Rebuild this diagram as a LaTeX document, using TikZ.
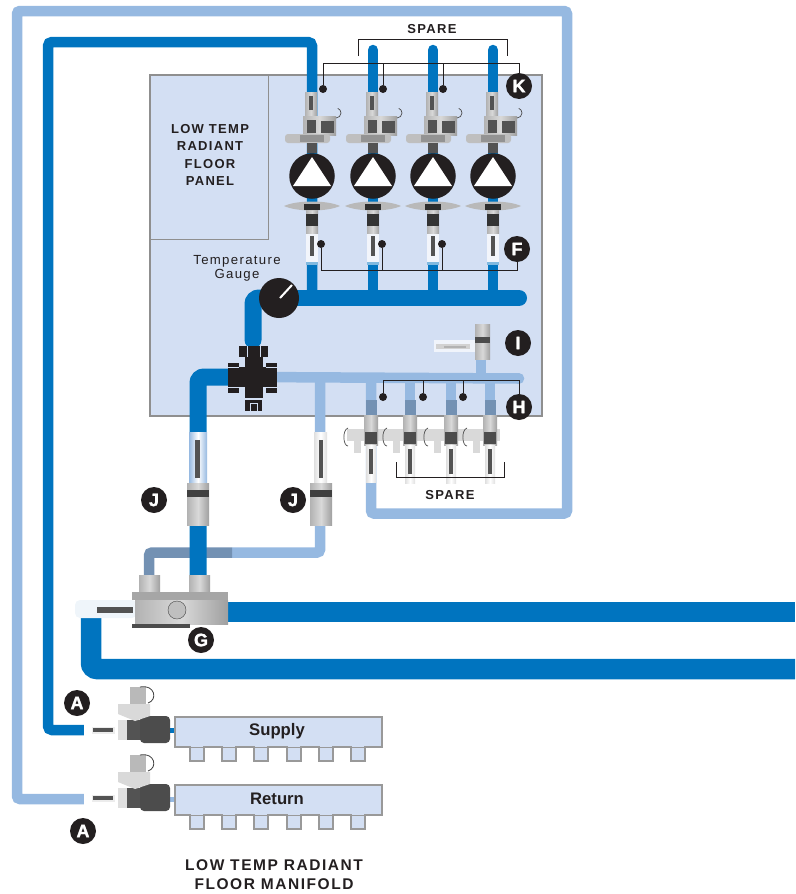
\documentclass[tikz,border=0pt]{standalone}
\usepackage{fontspec}
\setmainfont{Liberation Sans}
\newfontfamily\spacedfont[LetterSpace=10]{Liberation Sans}
\newfontfamily\heavyfont[FakeBold=1.6]{Liberation Sans}
\usetikzlibrary{calc,positioning}
\definecolor{pipedark}{HTML}{0074BF}
\definecolor{pipelight}{HTML}{96B9E1}
\definecolor{pipemute}{HTML}{7391B3}
\definecolor{panelfill}{HTML}{D3DFF3}
\definecolor{framegray}{HTML}{8F8F8F}
\definecolor{inkblack}{HTML}{231F20}
\tikzset{
  darkpipe/.style={draw=pipedark, line width=10.5pt, rounded corners=4pt},
  lightpipe/.style={draw=pipelight, line width=10.5pt, rounded corners=3pt},
  leader/.style={draw=inkblack, line width=1pt},
  leaderdot/.style={circle, fill=inkblack, inner sep=0pt, minimum size=8pt},
  callout/.style={circle, fill=inkblack, text=white, inner sep=0pt, minimum size=26pt, font=\heavyfont\bfseries\fontsize{18}{18}\selectfont},
  caption/.style={align=center, text=inkblack, font=\spacedfont\bfseries\fontsize{13}{17.6}\selectfont},
  metal/.style={draw=none, left color=gray!60, right color=gray!75, middle color=gray!30},
  metaldark/.style={draw=none, fill=gray!65!black},
  meter/.style={draw=none, left color=gray!25, right color=gray!25, middle color=white},
  tooth/.style={fill=panelfill, draw=gray!80, line width=1.6pt, line join=miter},
}
% Ball valve above a pump
\newcommand{\pumpvalve}[1]{
  \begin{scope}[shift={(#1,0)}]
    \fill[metal] (-7,92) rectangle (5,118);
    \fill[metaldark] (-3,96) rectangle (1,110);
    \fill[metal] (-9,116) rectangle (24,135);
    \fill[metaldark] (-5,120) rectangle (4,133);
    \fill[metaldark] (9,121) rectangle (22,133);
    \draw[gray!60!black, line width=0.7pt] (24,118) arc (90:-70:5);
    \fill[gray!50, rounded corners=3pt] (-27,134) rectangle (18,143);
    \fill[gray!85] (-12,135) rectangle (12,142);
    \fill[metaldark] (-5,143) rectangle (5,153);
  \end{scope}
}
% Flange and flow meter below a pump
\newcommand{\pumpmeter}[1]{
  \begin{scope}[shift={(#1,0)}]
    \fill[white!50!pipedark] (-6,261) rectangle (6,265);
    \fill[white!70!panelfill] (-6,232) rectangle (6,262);
    \fill[metaldark] (-2,236) rectangle (2,256);
    \fill[metal] (-6,208) rectangle (6,233);
    \fill[gray!40!black] (-6,214) rectangle (6,226);
    \fill[gray!55] (-28,206) .. controls (-15,200) and (15,200) .. (28,206) .. controls (15,212) and (-15,212) .. (-28,206) -- cycle;
    \fill[gray!35!black] (-8,204) rectangle (8,210);
  \end{scope}
}
% Valve under the return header
\newcommand{\returnvalve}[1]{
  \begin{scope}[shift={(#1,0)}]
    \fill[pipemute] (-5.5,400) rectangle (5.5,416);
    \fill[metal] (-7,415) rectangle (7,445);
    \fill[meter] (-5,445) rectangle (5,483);
    \fill[metaldark] (-2,449) rectangle (2,474);
    \fill[gray!60!black] (-6,432) rectangle (6,444);
    \draw[gray!60!black, line width=0.7pt] (-23,428) .. controls (-29,430) and (-28,446) .. (-23,446);
    \fill[gray!30] (-17,434) rectangle (-10,453);
  \end{scope}
}
% Valve on a manifold
\newcommand{\manifoldvalve}[1]{
  \begin{scope}[shift={(0,#1)}]
    \fill[white] (84,-9) rectangle (118,9);
    \fill[gray!15] (92,-3.5) rectangle (115,3.5);
    \fill[metaldark] (93,-2) rectangle (113,2);
    \fill[gray!25] (118,-10) rectangle (150,10);
    \fill[metaldark] (127,-10) rectangle (145,10);
    \fill[gray!60!black, rounded corners=4pt] (140,-14) rectangle (170,13);
    \fill[gray!30] (118,-26) -- (150,-26) -- (150,-14) -- (135,-9) -- (118,-16) -- cycle;
    \fill[gray!55] (130,-43) rectangle (146,-26);
    \draw[gray!50!black, line width=0.8pt] (140,-43) .. controls (155,-46) and (158,-30) .. (148,-27);
  \end{scope}
}
\begin{document}
\begin{tikzpicture}[x=1pt, y=-1pt]
\useasboundingbox (0,0) rectangle (795,894);

% Panel
\node (panel) [draw=framegray, fill=panelfill, line width=2.5pt, minimum width=392pt, minimum height=341pt, inner sep=0pt] at (346,245.5) {};
\node (panelbox) [draw=framegray, line width=1pt, minimum width=118pt, minimum height=164pt, inner sep=0pt] at (209.5,157) {};
\node (panellabel) [caption] at (210,155) {LOW TEMP\\RADIANT\\FLOOR\\PANEL};

% Pipe points
\coordinate (retstart) at (84,799);
\coordinate (retleft) at (17,11);
\coordinate (retright) at (567,513.5);
\coordinate (retend) at (371,380);
\coordinate (supstart) at (84,730);
\coordinate (suptop) at (48,42);
\coordinate (supend) at (312,295);
\coordinate (gaugec) at (279,298);
\coordinate (mixc) at (253,377);
\coordinate (gportl) at (149,590);
\coordinate (gportr) at (198,590);
\coordinate (bendlow) at (91,669);
\coordinate (farlow) at (795,669);
\coordinate (farhigh) at (795,612);
\coordinate (headerend) at (519,298);
\coordinate (lightend) at (518,378.5);

% Return pipes
\draw[lightpipe] (retstart) -| (retleft) -| (retright) -| (retend);
\draw[lightpipe] (mixc) -- (lightend);
\draw[lightpipe, line cap=round] (lightend) -- ++(1,0);
\draw[lightpipe] (481,378) -- (481,355);
\foreach \x/\n in {410/1,451/2,490/3} {
  \coordinate (drop\n) at (\x,378);
  \draw[draw=pipelight, line width=10.5pt] (drop\n) -- ++(0,37);
}
\draw[lightpipe] (320,378) -- (320,552.5) -- (232,552.5);
\draw[draw=pipemute, line width=10.5pt, rounded corners=3pt] (232,552.5) -| (gportl);

% Supply pipes
\draw[darkpipe] (supstart) -| (suptop) -| (supend);
\foreach \x/\n in {373/1,433/2,493/3} {
  \coordinate (riser\n) at (\x,50);
  \draw[draw=pipedark, line width=10.5pt, line cap=round] (riser\n) -- (\x,295);
}
\draw[draw=pipedark, line width=16pt, line cap=round] (gaugec) -- (headerend);
\draw[draw=pipedark, line width=17pt, line cap=round, rounded corners=6pt] (gaugec) -| (253,340);
\draw[draw=pipedark, line width=17pt, rounded corners=6pt] (mixc) -| (gportr);
\draw[draw=pipedark, line width=20pt] (200,612) -- (farhigh);
\draw[draw=pipedark, line width=20.5pt, rounded corners=6pt] (91,618) |- (farlow);
\draw[draw=pipedark, line width=5pt] (165,730) -- (176,730);
\draw[draw=pipelight, line width=5pt] (165,799) -- (176,799);

% Pumps
\foreach \x/\n in {312/1,373/2,433/3,493/4} {
  \pumpvalve{\x}
  \node (pump\n) [circle, fill=inkblack, inner sep=0pt, minimum size=45.5pt] at (\x,176) {};
  \fill[white] (\x,157) -- (\x+19,186) -- (\x-19,186) -- cycle;
  \pumpmeter{\x}
}

% Temperature gauge
\node (gauge) [circle, fill=inkblack, inner sep=0pt, minimum size=40pt] at (gaugec) {};
\draw[white, line width=2pt] (280,298) -- (292,285);
\node (gaugelabel) [text=inkblack, align=center, font=\fontsize{13.2}{14}\selectfont\spacedfont] at (237,268.5) {Temperature\\Gauge};

% Mixing valve
\fill[inkblack] (239,346) rectangle (268,357);
\fill[inkblack] (245,357) rectangle (263,398);
\fill[inkblack] (228,363) rectangle (239,393);
\fill[inkblack] (266,363) rectangle (277,393);
\fill[inkblack] (239,367) rectangle (266,387);
\fill[inkblack] (245,400) rectangle (262,411);
\draw[panelfill, line width=0.6pt] (250,403) rectangle (257,411);
\draw[panelfill, line width=0.6pt] (247,346) -- (247,357) (260,346) -- (260,357);
\draw[panelfill, line width=0.6pt] (228,367) -- (239,367) (228,387) -- (239,387) (266,367) -- (277,367) (266,387) -- (277,387);

% Fitting at I
\fill[white!65!panelfill] (434,340) rectangle (475,352);
\fill[gray!35] (436,344) rectangle (470,349);
\fill[gray!60] (444,345.5) rectangle (466,348);
\fill[metal] (475,324) rectangle (490,359);
\fill[gray!60!black] (475,337) rectangle (490,343);

% Return valves
\fill[gray!30] (347,429) rectangle (500,441);
\foreach \x in {371,410,451,490} {
  \returnvalve{\x}
}
\fill[pipelight] (366,483) rectangle (376,489);

% Flow meters and gates at J
\fill[draw=none, left color=pipelight, right color=pipelight, middle color=white] (189,432) rectangle (207,484);
\fill[metaldark] (195,440) rectangle (200,478);
\fill[metal] (187,483) rectangle (209,525);
\fill[gray!50!black] (187,490) rectangle (209,497);
\fill[meter] (314,432) rectangle (327,484);
\fill[metaldark] (319,440) rectangle (323,478);
\fill[metal] (310,483) rectangle (332,525);
\fill[gray!50!black] (310,490) rectangle (332,497);

% Valve at G
\fill[white!85!pipelight, rounded corners=5pt] (75,600) rectangle (137,618);
\fill[metaldark] (97,607) rectangle (133,613);
\fill[metal] (139,575) rectangle (160,594);
\fill[metal] (189,575) rectangle (210,600);
\fill[gray!70] (132,592) rectangle (228,600);
\fill[metal] (135,600) rectangle (228,624);
\fill[gray!60!black] (132,624) rectangle (190,628);
\node (gnut) [circle, draw=gray!55!black, fill=gray!50, inner sep=0pt, minimum size=18pt] at (177,610) {};

% Manifolds
\foreach \y/\n/\t in {716/1/Supply,784/2/Return} {
  \manifoldvalve{\y+14}
  \foreach \i in {190,222,254,287,319,351} {
    \draw[tooth] (\i,\y+28) rectangle (\i+14,\y+45);
  }
  \node (manifold\n) [draw=gray!80, fill=panelfill, line width=1.6pt, minimum width=207pt, minimum height=30pt, inner sep=0pt, anchor=north west] at (174,\y) {};
  \foreach \i in {190,222,254,287,319,351} {
    \fill[panelfill] (\i+0.8,\y+28) rectangle (\i+13.2,\y+31);
  }
  \node (label\n) [text=inkblack, font=\bfseries\fontsize{16.7}{17}\selectfont] at (277,\y+15) {\t};
}
\node (manifoldlabel) [caption, font=\spacedfont\bfseries\fontsize{15.5}{19}\selectfont] at (274,875) {LOW TEMP RADIANT\\FLOOR MANIFOLD};

% Spare brackets
\node (sparetop) [caption] at (432,29) {SPARE};
\draw[leader] (358,56) |- (507,39) -- (507,56);
\node (sparelow) [caption] at (450,495) {SPARE};
\draw[leader] (396,462) |- (504,477) -- (504,462);

% Callouts
\node (kcall) [callout] at (519,86) {K};
\node (fcall) [callout] at (517,249) {F};
\node (icall) [callout] at (518,343) {I};
\node (hcall) [callout] at (519,407) {H};
\node (jcalla) [callout] at (154,500) {J};
\node (jcallb) [callout] at (293,500) {J};
\node (gcall) [callout] at (201,640) {G};
\node (acalla) [callout] at (77,703) {A};
\node (acallb) [callout] at (83,831) {A};

% Leader lines
\coordinate (kbar) at (519,63);
\coordinate (fbar) at (517,270);
\coordinate (hbar) at (519,380);
\node (kdot1) [leaderdot] at (323,89) {};
\node (kdot2) [leaderdot] at (383,89) {};
\node (kdot3) [leaderdot] at (443,89) {};
\node (fdot1) [leaderdot] at (321,244) {};
\node (fdot2) [leaderdot] at (382,244) {};
\node (fdot3) [leaderdot] at (442,244) {};
\node (hdot1) [leaderdot] at (383,397) {};
\node (hdot2) [leaderdot] at (423,397) {};
\node (hdot3) [leaderdot] at (463,397) {};
\draw[leader] (kdot1) |- (kbar) -- (kcall);
\draw[leader] (kdot2) -- (kdot2 |- kbar);
\draw[leader] (kdot3) -- (kdot3 |- kbar);
\draw[leader] (fdot1) |- (fbar) -- (fcall);
\draw[leader] (fdot2) -- (fdot2 |- fbar);
\draw[leader] (fdot3) -- (fdot3 |- fbar);
\draw[leader] (hdot1) |- (hbar) -- (hcall);
\draw[leader] (hdot2) -- (hdot2 |- hbar);
\draw[leader] (hdot3) -- (hdot3 |- hbar);
\end{tikzpicture}
\end{document}
